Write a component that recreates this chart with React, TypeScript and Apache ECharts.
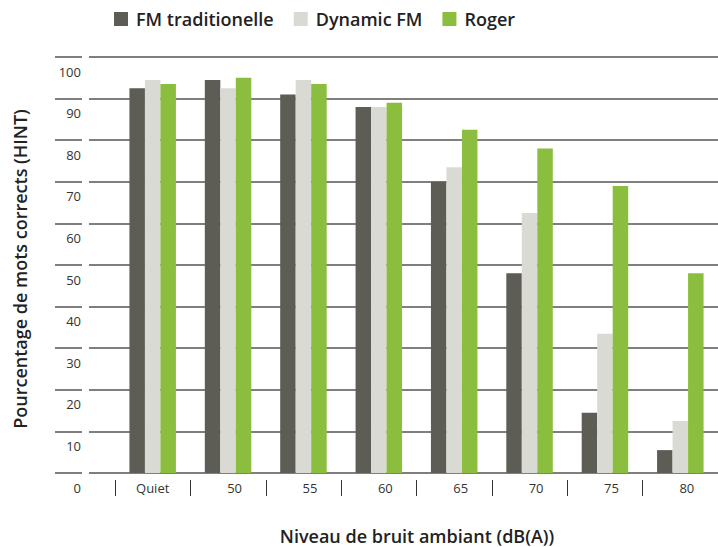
import React, { useEffect, useRef } from "react";
import * as echarts from "echarts";

const categories = ["Quiet", "50", "55", "60", "65", "70", "75", "80"];
const fmTraditionnelle = [92.5, 94.5, 91, 88, 70, 48, 14.5, 5.5];
const dynamicFM = [94.5, 92.5, 94.5, 88, 73.5, 62.5, 33.5, 12.5];
const roger = [93.5, 95, 93.5, 89, 82.5, 78, 69, 48];
const seriesNames = ["FM traditionelle", "Dynamic FM", "Roger"];
const yTitle = "Pourcentage de mots corrects (HINT)";
const xTitle = "Niveau de bruit ambiant (dB(A))";

const FONT = "Open Sans";
const TOP = 57;
const HEIGHT = 416;

export default function App() {
  const ref = useRef<HTMLDivElement>(null);
  useEffect(() => {
    if (!ref.current) return;
    const chart = echarts.init(ref.current, null, { renderer: "svg" });
    const split = { show: true, lineStyle: { color: "#555", width: 1.5 } };
    const mkBar = (name: string, data: number[], color: string) => ({
      name,
      type: "bar",
      xAxisIndex: 2,
      yAxisIndex: 2,
      data,
      barWidth: 15.5,
      barGap: "0%",
      itemStyle: { color },
    });
    chart.setOption({
      animation: false,
      textStyle: { fontFamily: FONT },
      legend: {
        left: 109,
        top: 5,
        itemWidth: 14,
        itemHeight: 14,
        itemGap: 20,
        icon: "rect",
        textStyle: {
          fontFamily: FONT,
          fontWeight: 600,
          fontSize: 18,
          color: "#222",
          padding: [0, 0, 0, 3],
        },
        data: seriesNames,
      },
      grid: [
        { left: 55, width: 27, top: TOP, height: HEIGHT },
        { left: 89, right: 0, top: TOP, height: HEIGHT },
        { left: 115, width: 605, top: TOP, height: HEIGHT },
      ],
      xAxis: [
        { gridIndex: 0, type: "value", show: false },
        { gridIndex: 1, type: "value", show: false },
        {
          gridIndex: 2,
          type: "category",
          data: categories,
          axisLine: { show: false },
          axisTick: { show: false },
          axisLabel: {
            margin: 8,
            fontSize: 13,
            color: "#333",
            fontFamily: FONT,
            formatter: (v: string) => (v === categories[0] ? v : "{n|" + v + "}"),
            rich: { n: { fontSize: 13, color: "#333", fontFamily: FONT, padding: [0, 0, 0, 13] } },
          },
        },
        {
          gridIndex: 2,
          type: "category",
          data: categories,
          position: "bottom",
          offset: 7,
          axisLine: { show: false },
          axisTick: { show: true, length: 16, lineStyle: { color: "#333", width: 1 } },
          axisLabel: { show: false },
        },
      ],
      yAxis: [
        {
          gridIndex: 0,
          type: "value",
          position: "right",
          min: 0,
          max: 100,
          interval: 10,
          axisLine: { show: false },
          axisTick: { show: false },
          splitLine: split,
          axisLabel: {
            inside: true,
            margin: 1,
            fontSize: 13,
            color: "#333",
            fontFamily: FONT,
            verticalAlign: "top",
            padding: [8, 0, 0, 0],
          },
        },
        {
          gridIndex: 1,
          type: "value",
          min: 0,
          max: 100,
          interval: 10,
          axisLine: { show: false },
          axisTick: { show: false },
          axisLabel: { show: false },
          splitLine: split,
        },
        {
          gridIndex: 2,
          type: "value",
          min: 0,
          max: 100,
          interval: 10,
          show: false,
          splitLine: { show: false },
        },
      ],
      graphic: [
        {
          type: "text",
          x: 20,
          y: 269,
          rotation: Math.PI / 2,
          style: {
            text: yTitle,
            fontFamily: FONT,
            fontWeight: 600,
            fontSize: 18,
            fill: "#222",
            align: "center",
            verticalAlign: "middle",
          },
        },
        {
          type: "text",
          x: 417,
          y: 536,
          style: {
            text: xTitle,
            fontFamily: FONT,
            fontWeight: 600,
            fontSize: 18,
            fill: "#222",
            align: "center",
            verticalAlign: "middle",
          },
        },
      ],
      series: [
        mkBar(seriesNames[0], fmTraditionnelle, "#5d5d55"),
        mkBar(seriesNames[1], dynamicFM, "#dadad5"),
        mkBar(seriesNames[2], roger, "#8bbe3e"),
      ],
    });
    return () => chart.dispose();
  }, []);
  return <div ref={ref} style={{ width: 718, height: 547, position: "absolute", left: 0, top: 0 }} />;
}
